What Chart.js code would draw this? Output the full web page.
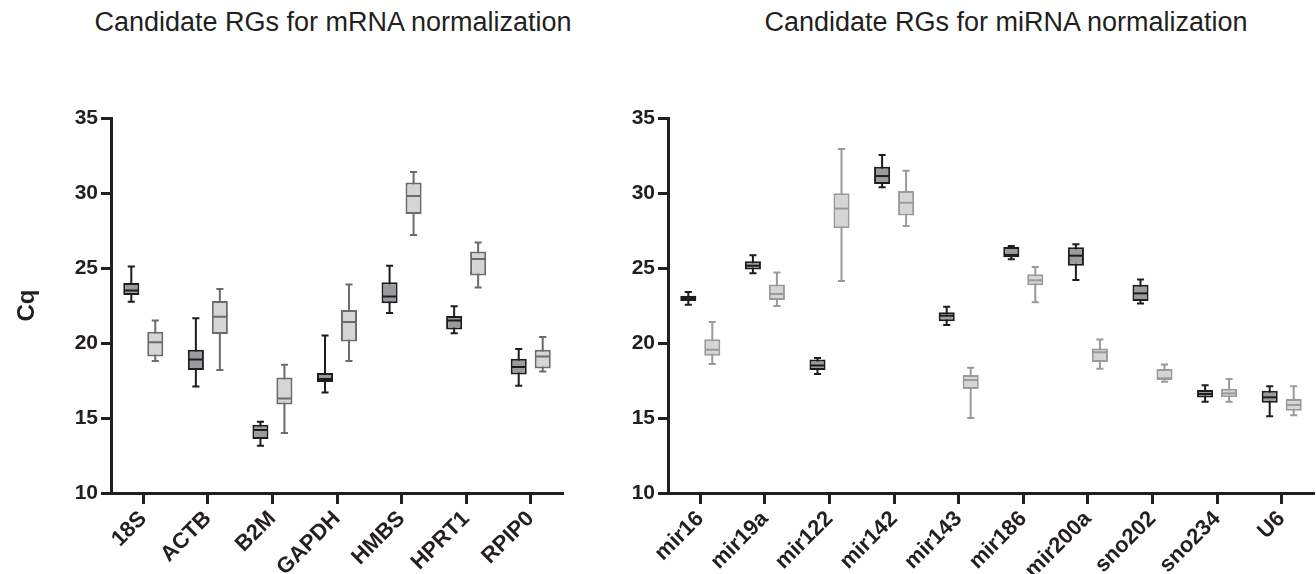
<!DOCTYPE html>
<html>
<head>
<meta charset="utf-8">
<script src="https://cdn.jsdelivr.net/npm/chart.js@4.4.0/dist/chart.umd.min.js"></script>
<style>
  body { margin: 0; background: #fff; width: 1316px; height: 574px; position: relative; overflow: hidden; }
  .title { position: absolute; top: 9px; font: 27px/27px "Liberation Sans", Arial, sans-serif; color: #231f20; white-space: nowrap; transform: translateX(-50%); }
  .panel { position: absolute; top: 0; height: 574px; }
</style>
</head>
<body>
<div class="title" style="left:333px">Candidate RGs for mRNA normalization</div>
<div class="title" style="left:1006px">Candidate RGs for miRNA normalization</div>
<div class="panel" style="left:0;width:600px"><canvas id="left" width="600" height="574"></canvas></div>
<div class="panel" style="left:600px;width:716px"><canvas id="right" width="716" height="574"></canvas></div>
<script>
// each entry: [min, q1, median, q3, max] in Cq
const mrnaGenes = ['18S', 'ACTB', 'B2M', 'GAPDH', 'HMBS', 'HPRT1', 'RPIP0'];
const mrnaDark = [
  [22.75, 23.2, 23.5, 24.0, 25.1],
  [17.1, 18.2, 18.9, 19.55, 21.65],
  [13.15, 13.6, 14.2, 14.55, 14.75],
  [16.7, 17.4, 17.6, 18.0, 20.5],
  [22.0, 22.65, 23.1, 24.05, 25.15],
  [20.65, 20.9, 21.5, 21.8, 22.45],
  [17.15, 17.9, 18.4, 18.95, 19.6]
];
const mrnaLight = [
  [18.8, 19.1, 20.05, 20.75, 21.5],
  [18.2, 20.6, 21.75, 22.8, 23.6],
  [14.0, 15.9, 16.3, 17.7, 18.55],
  [18.8, 20.1, 21.4, 22.2, 23.9],
  [27.2, 28.6, 29.8, 30.7, 31.4],
  [23.7, 24.5, 25.6, 26.1, 26.7],
  [18.1, 18.3, 19.1, 19.55, 20.4]
];

const mirnaGenes = ['mir16', 'mir19a', 'mir122', 'mir142', 'mir143', 'mir186', 'mir200a', 'sno202', 'sno234', 'U6'];
const mirnaDark = [
  [22.55, 22.8, 23.0, 23.15, 23.4],
  [24.65, 24.9, 25.15, 25.45, 25.85],
  [17.93, 18.2, 18.5, 18.9, 19.0],
  [30.38, 30.6, 31.13, 31.75, 32.53],
  [21.2, 21.45, 21.82, 22.05, 22.42],
  [25.58, 25.71, 25.87, 26.4, 26.47],
  [24.2, 25.15, 25.82, 26.38, 26.58],
  [22.64, 22.8, 23.31, 23.89, 24.24],
  [16.09, 16.36, 16.6, 16.87, 17.18],
  [15.11, 16.02, 16.38, 16.82, 17.11]
];
const mirnaLight = [
  [18.6, 19.15, 19.55, 20.25, 21.4],
  [22.47, 22.87, 23.27, 23.9, 24.7],
  [24.13, 27.65, 28.96, 29.98, 32.93],
  [27.8, 28.5, 29.35, 30.13, 31.49],
  [15.0, 16.93, 17.53, 17.87, 18.35],
  [22.71, 23.85, 24.18, 24.58, 25.07],
  [18.29, 18.73, 19.38, 19.64, 20.24],
  [17.42, 17.53, 17.65, 18.27, 18.56],
  [16.09, 16.38, 16.64, 16.95, 17.6],
  [15.18, 15.49, 15.87, 16.27, 17.11]
];

const yTicks = [10, 15, 20, 25, 30, 35];

const axisColor = '#231f20';
const fontFamily = '"Liberation Sans", Arial, sans-serif';

// whiskers under the boxes, medians on top
const boxPlotLines = {
  id: 'boxPlotLines',
  beforeDatasetsDraw(chart) {
    const ctx = chart.ctx;
    const yScale = chart.scales.y;
    chart.data.datasets.forEach((ds, di) => {
      const meta = chart.getDatasetMeta(di);
      ctx.save();
      ctx.strokeStyle = ds.lineColor;
      ctx.lineWidth = 2;
      meta.data.forEach((bar, i) => {
        const p = bar.getProps(['x', 'width'], true);
        const s = ds.stats[i];
        const yMin = yScale.getPixelForValue(s[0]);
        const yMax = yScale.getPixelForValue(s[4]);
        const cap = p.width * 0.22;
        ctx.beginPath();
        ctx.moveTo(p.x, yMin);
        ctx.lineTo(p.x, yMax);
        ctx.moveTo(p.x - cap, yMin);
        ctx.lineTo(p.x + cap, yMin);
        ctx.moveTo(p.x - cap, yMax);
        ctx.lineTo(p.x + cap, yMax);
        ctx.stroke();
      });
      ctx.restore();
    });
  },
  afterDatasetsDraw(chart) {
    const ctx = chart.ctx;
    const yScale = chart.scales.y;
    chart.data.datasets.forEach((ds, di) => {
      const meta = chart.getDatasetMeta(di);
      ctx.save();
      ctx.strokeStyle = ds.lineColor;
      ctx.lineWidth = 2;
      meta.data.forEach((bar, i) => {
        const p = bar.getProps(['x', 'width'], true);
        const yMed = yScale.getPixelForValue(ds.stats[i][2]);
        ctx.beginPath();
        ctx.moveTo(p.x - p.width / 2 + 1, yMed);
        ctx.lineTo(p.x + p.width / 2 - 1, yMed);
        ctx.stroke();
      });
      ctx.restore();
    });
  }
};

function boxSet(stats, fill, line) {
  return {
    data: stats.map(s => [s[1], s[3]]),
    stats: stats,
    lineColor: line,
    backgroundColor: fill,
    borderColor: line,
    borderWidth: 2,
    borderSkipped: false,
    barPercentage: 0.67,
    categoryPercentage: 0.743
  };
}

function makeChart(id, labels, dark, light, lightLine, yWidth, padRight, showTitle) {
  return new Chart(document.getElementById(id), {
    type: 'bar',
    data: {
      labels: labels,
      datasets: [
        boxSet(dark, '#9a9b9f', '#1e1c1d'),
        boxSet(light, '#d5d5d5', lightLine)
      ]
    },
    options: {
      responsive: false,
      animation: false,
      devicePixelRatio: 1,
      layout: { padding: { top: 118, left: 0, right: padRight, bottom: 0 } },
      plugins: { legend: { display: false }, tooltip: { enabled: false } },
      scales: {
        x: {
          offset: true,
          grid: { offset: false, drawOnChartArea: false, tickLength: 11, tickWidth: 3, tickColor: axisColor },
          border: { color: axisColor, width: 3 },
          ticks: {
            color: axisColor, maxRotation: 45, minRotation: 45, padding: 2,
            font: { family: fontFamily, size: 22, weight: 'bold' }
          },
          afterFit(scale) { scale.height = 81; }
        },
        y: {
          min: 10,
          max: 35,
          afterBuildTicks(scale) { scale.ticks = yTicks.map(v => ({ value: v })); },
          grid: { drawOnChartArea: false, tickLength: 10, tickWidth: 3, tickColor: axisColor },
          border: { color: axisColor, width: 3 },
          ticks: {
            color: axisColor, padding: 3,
            font: { family: fontFamily, size: 21, weight: 'bold' }
          },
          title: {
            display: showTitle, text: 'Cq', color: axisColor,
            padding: { top: 13, bottom: 0 },
            font: { family: fontFamily, size: 24, weight: 'bold' }
          },
          afterFit(scale) { scale.width = yWidth; }
        }
      }
    },
    plugins: [boxPlotLines]
  });
}

makeChart('left', mrnaGenes, mrnaDark, mrnaLight, '#6b6b6b', 111, 37, true);
makeChart('right', mirnaGenes, mirnaDark, mirnaLight, '#9a9a9a', 68, 2, false);
</script>
</body>
</html>
